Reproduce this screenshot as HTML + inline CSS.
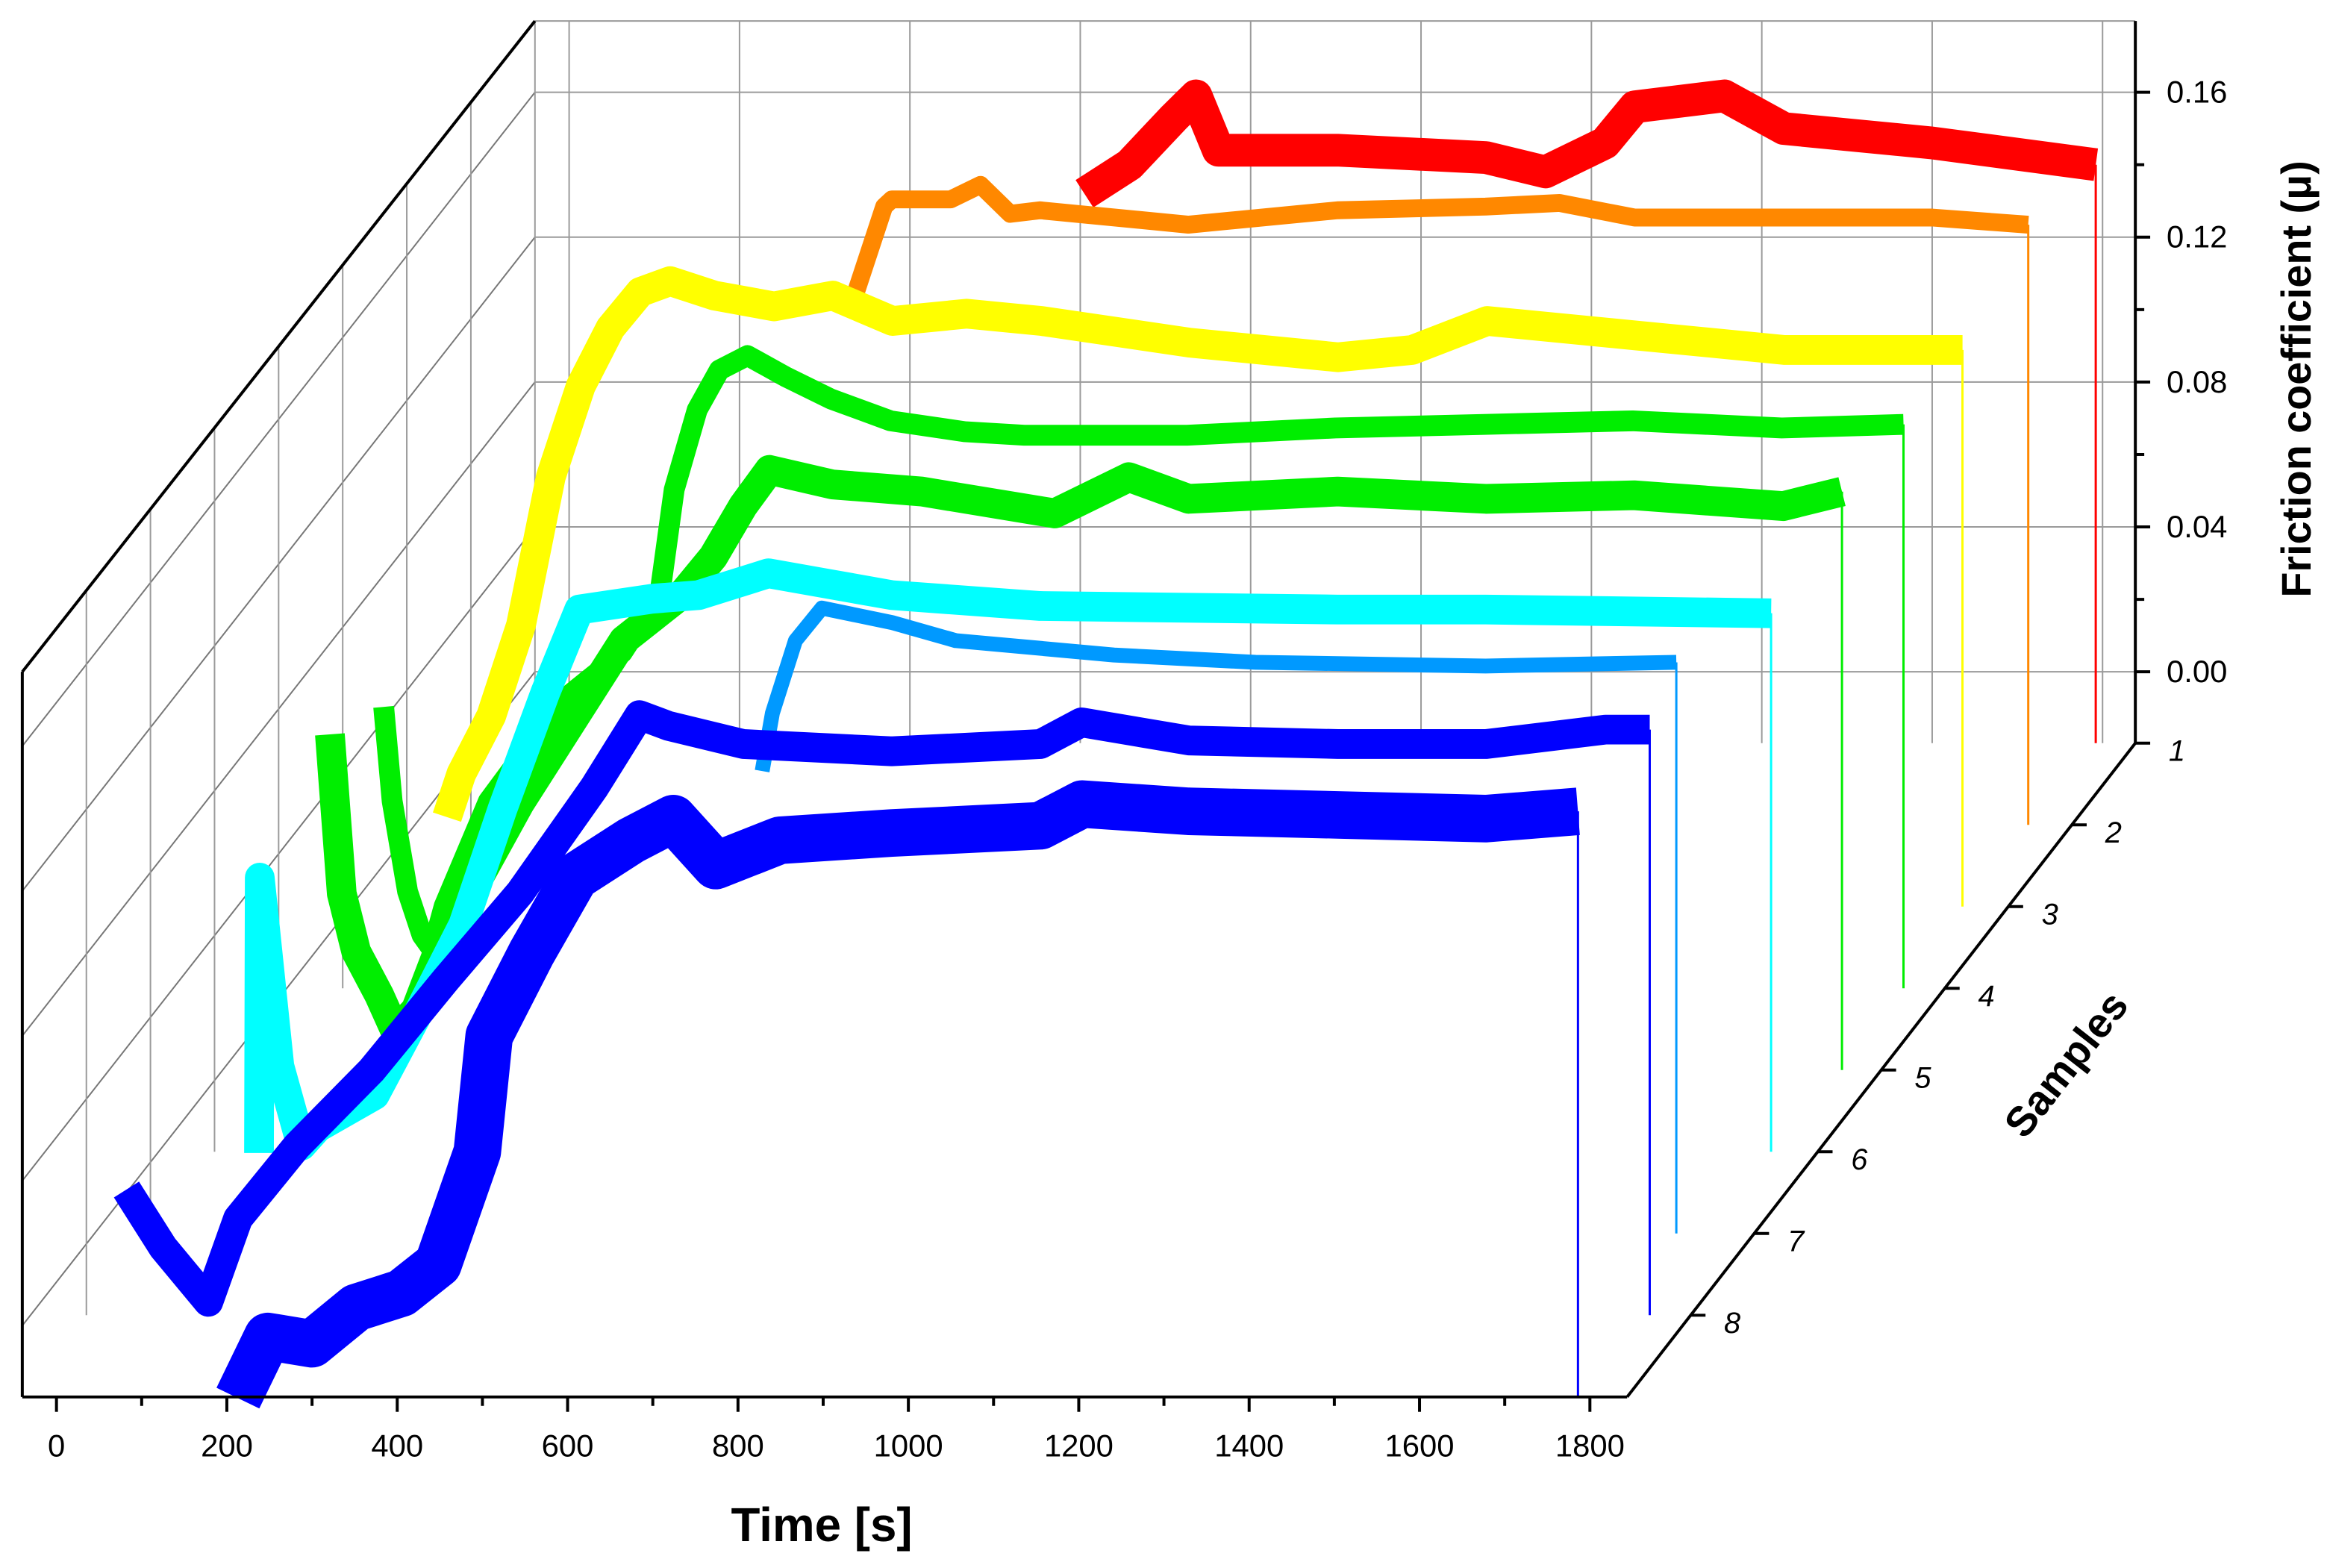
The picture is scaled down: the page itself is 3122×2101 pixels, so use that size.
<!DOCTYPE html>
<html><head><meta charset="utf-8"><style>
html,body{margin:0;padding:0;background:#fff;}
svg{display:block;font-family:"Liberation Sans",Arial,sans-serif;}
</style></head><body>
<svg id="c" width="3122" height="2101" viewBox="0 0 1568 1055" xmlns="http://www.w3.org/2000/svg">
<rect width="1568" height="1055" fill="#fff"/>
<g id="grid"></g>
<g id="series"></g>
<g id="axes"></g>
<text x="553" y="1037" font-size="32" font-weight="bold" text-anchor="middle">Time [s]</text>
<text transform="translate(1555,255) rotate(-90)" font-size="28" font-weight="bold" text-anchor="middle">Friction coefficient (μ)</text>
<text transform="translate(1398,722) rotate(-52)" font-size="28" font-weight="bold" text-anchor="middle">Samples</text>
</svg>
<script>
const timeTicks=[0,200,400,600,800,1000,1200,1400,1600,1800];
const muTicks=[0,0.04,0.08,0.12,0.16];
const muTickLabels=["0.00","0.04","0.08","0.12","0.16"];
const sampleLabels=["1","2","3","4","5","6","7","8"];
const seriesColors=["#ff0000","#ff8800","#ffff00","#00ee00","#00ee00","#00ffff","#0099ff","#0000ff","#0000ff"];
const seriesDepth=[1,0.875,0.75,0.625,0.5,0.375,0.25,0.125,0];
const seriesBand=[22,12,20,14,20,20,10,20,32];
const redT=[605,658,710,736,762,902,1076,1146,1216,1251,1356,1426,1600,1792];
const redMu=[.132,.140,.153,.159,.144,.144,.142,.138,.146,.156,.159,.150,.146,.140];
const orangeT=[401,410,445,454,523,558,593,628,802,977,1151,1238,1326,1500,1675,1788];
const orangeMu=[.122,.126,.151,.153,.153,.157,.149,.150,.146,.150,.151,.152,.148,.148,.148,.146];
const yellowT=[7,24,59,94,129,164,199,234,269,321,391,460,530,617,705,879,1053,1140,1228,1402,1577,1786];
const yellowMu=[.005,.017,.033,.058,.099,.124,.140,.150,.153,.149,.146,.149,.142,.144,.142,.136,.132,.134,.142,.138,.134,.134];
const green1T=[8,18,36,53,65,79,131,219,288,332,349,376,402,435,481,533,603,690,760,951,1125,1300,1474,1649,1792];
const green1Mu=[.058,.032,.007,-.005,-.009,.003,.032,.060,.073,.089,.118,.140,.151,.155,.149,.143,.137,.134,.133,.133,.135,.136,.137,.135,.136];
const green2T=[20,34,51,78,97,121,147,243,365,435,470,505,536,610,715,871,958,1028,1203,1377,1551,1726,1795];
const green2Mu=[.073,.029,.013,.001,-.009,-.003,.013,.054,.099,.112,.122,.136,.146,.142,.140,.134,.144,.138,.140,.138,.139,.136,.140];
const cyanT=[12,13,36,62,81,148,202,252,298,348,388,474,528,610,755,929,1278,1452,1787];
const cyanMu=[-.020,.056,.004,-.018,-.013,-.004,.020,.043,.075,.107,.130,.133,.134,.140,.134,.131,.130,.130,.129];
const dodgerT=[678,690,717,748,830,905,1091,1257,1527,1751];
const dodgerMu=[.108,.124,.144,.153,.149,.144,.140,.138,.137,.138];
const blue1T=[7,50,103,138,207,295,382,469,556,609,643,731,905,1080,1128,1254,1429,1603,1743,1795];
const blue1Mu=[.015,-.001,-.016,.007,.027,.048,.073,.097,.126,.146,.143,.138,.136,.138,.144,.139,.138,.138,.142,.142];
const blue2T=[213,248,300,352,405,448,494,508,558,609,675,724,774,849,980,1155,1204,1329,1504,1678,1786];
const blue2Mu=[-.020,-.003,-.005,.005,.009,.017,.048,.080,.103,.124,.134,.140,.127,.134,.136,.138,.144,.142,.141,.140,.142];
const seriesT=[redT,orangeT,yellowT,green1T,green2T,cyanT,dodgerT,blue1T,blue2T];
const seriesMu=[redMu,orangeMu,yellowMu,green1Mu,green2Mu,cyanMu,dodgerMu,blue1Mu,blue2Mu];
const seriesNames=["sample-1","sample-2","sample-3","sample-4","sample-5","sample-6","sample-7","sample-8","sample-9"];

const NS="http://www.w3.org/2000/svg";
function X(t,d){return 38+t*0.5733+d*345;}
function Y(mu,d){return 892-d*440-mu*2437.5;}
function mk(tag,attrs,parent){const e=document.createElementNS(NS,tag);for(const k in attrs)e.setAttribute(k,attrs[k]);parent.appendChild(e);return e;}
const grid=document.getElementById('grid'),axes=document.getElementById('axes'),ser=document.getElementById('series');
const gc="#9a9a9a";
// back wall grid
for(const t of timeTicks){const l=mk('line',{x1:X(t,1),y1:14,x2:X(t,1),y2:500,stroke:gc,'stroke-width':1},grid);

}
for(const m of muTicks){const l=mk('line',{x1:360,y1:Y(m,1),x2:1437,y2:Y(m,1),stroke:gc,'stroke-width':1},grid);


const l2=mk('line',{x1:15,y1:Y(m,0),x2:360,y2:Y(m,1),stroke:'#777','stroke-width':1},grid);

}
for(let k=1;k<8;k++){const d=k/8;const x=15+d*345;const l=mk('line',{x1:x,y1:940-d*440,x2:x,y2:452-438*d,stroke:gc,'stroke-width':1},grid);

}
mk('line',{x1:360,y1:14,x2:1437,y2:14,stroke:gc},grid);
mk('line',{x1:360,y1:14,x2:360,y2:500,stroke:gc},grid);
// series
for(let i=0;i<seriesT.length;i++){
 const d=seriesDepth[i],T=seriesT[i],M=seriesMu[i];
 let p=T.map((t,j)=>X(t,d).toFixed(1)+','+Y(M[j],d).toFixed(1)).join(' ');
 const g=mk('g',{},ser);
 
 
 const band=mk('polyline',{points:p,fill:'none',stroke:seriesColors[i],'stroke-width':seriesBand[i],'stroke-linejoin':'round','stroke-linecap':'butt'},g);
 
 
 const lt=T[T.length-1],lm=M[M.length-1];
 const drop=mk('line',{x1:X(lt,d),y1:Y(lm,d),x2:X(lt,d),y2:940-d*440,stroke:seriesColors[i],'stroke-width':1.5},g);
 
 
}
// axes outlines
const A={stroke:'#000','stroke-width':2};
mk('line',Object.assign({x1:15,y1:452,x2:360,y2:14},A),axes);
mk('line',Object.assign({x1:15,y1:452,x2:15,y2:940},A),axes);
const xa=mk('line',Object.assign({x1:15,y1:940,x2:1095,y2:940},A),axes);


const za=mk('line',Object.assign({x1:1095,y1:940,x2:1437,y2:500},A),axes);


const ya=mk('line',Object.assign({x1:1437,y1:14,x2:1437,y2:500},A),axes);


for(let t=-0;t<=1800;t+=100){const maj=t%200===0;mk('line',{x1:X(t,0),y1:940,x2:X(t,0),y2:maj?950:946,stroke:'#000','stroke-width':2},axes);}
timeTicks.forEach(t=>{const tx=mk('text',{x:X(t,0),y:980,'font-size':21,'text-anchor':'middle'},axes);tx.textContent=t;

});
for(let m=0;m<=0.16001;m+=0.02){const maj=Math.round(m*100)%4===0;mk('line',{x1:1437,y1:Y(m,1),x2:maj?1447:1443,y2:Y(m,1),stroke:'#000','stroke-width':2},axes);}
muTicks.forEach((m,i)=>{const tx=mk('text',{x:1458,y:Y(m,1)+7,'font-size':21},axes);tx.textContent=muTickLabels[i];

});
sampleLabels.forEach((s,k)=>{const d=(8-k)/8;const x=1095+342*d,y=940-440*d;
mk('line',{x1:x,y1:y,x2:x+10,y2:y,stroke:'#000','stroke-width':2},axes);
const tx=mk('text',{x:x+28,y:y+12,'font-size':20,'font-style':'italic','text-anchor':'middle'},axes);tx.textContent=s;

});
</script>
</body></html>
